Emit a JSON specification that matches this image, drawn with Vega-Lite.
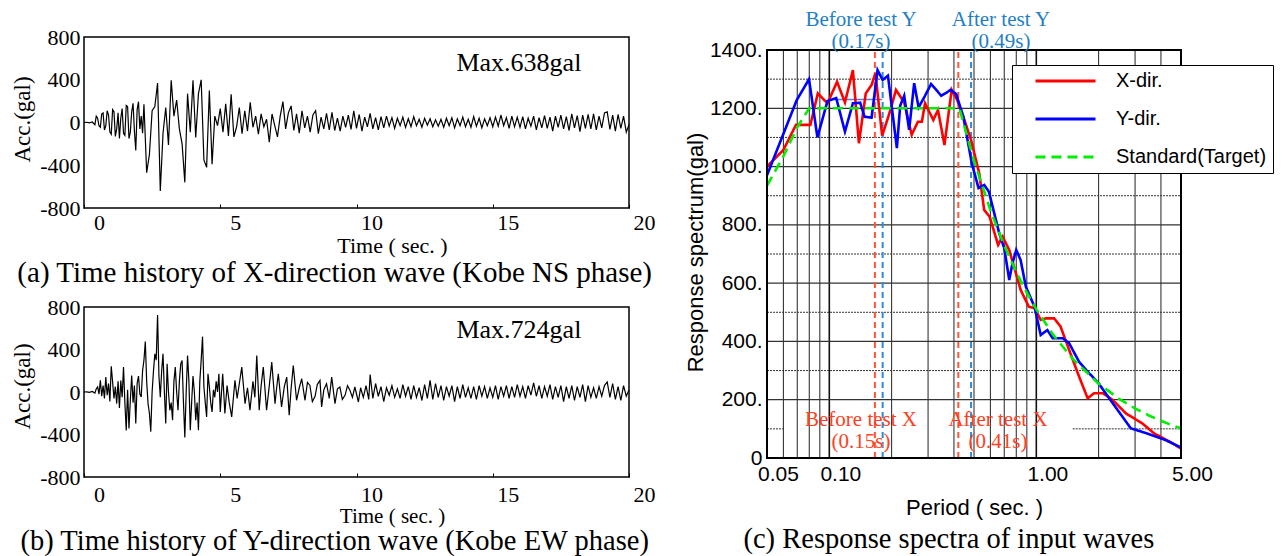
{
"$schema": "https://vega.github.io/schema/vega-lite/v6.json",
"width": 1282, "height": 556, "autosize": "none", "padding": 0,
"background": "white",
"config": {"view": {"stroke": null}, "axis": {"labelColor": "black", "titleColor": "black", "titleFontWeight": "normal", "grid": false, "domain": false, "labelFlush": false, "labelOverlap": false}},
"datasets": {
"wa": [{"t":0,"a":0},{"t":0.1,"a":2},{"t":0.2,"a":-3},{"t":0.3,"a":5},{"t":0.4,"a":-20},{"t":0.45,"a":60},{"t":0.5,"a":40},{"t":0.55,"a":-30},{"t":0.6,"a":-45},{"t":0.65,"a":80},{"t":0.7,"a":90},{"t":0.75,"a":-70},{"t":0.8,"a":-30},{"t":0.85,"a":110},{"t":0.9,"a":70},{"t":0.95,"a":-90},{"t":1.0,"a":-110},{"t":1.05,"a":120},{"t":1.1,"a":100},{"t":1.15,"a":-130},{"t":1.2,"a":-60},{"t":1.25,"a":90},{"t":1.3,"a":-150},{"t":1.35,"a":40},{"t":1.4,"a":130},{"t":1.45,"a":-100},{"t":1.5,"a":-120},{"t":1.55,"a":160},{"t":1.6,"a":150},{"t":1.65,"a":-150},{"t":1.7,"a":-90},{"t":1.75,"a":100},{"t":1.8,"a":180},{"t":1.85,"a":-80},{"t":1.9,"a":-262},{"t":1.95,"a":120},{"t":2.0,"a":195},{"t":2.05,"a":-60},{"t":2.1,"a":60},{"t":2.15,"a":-100},{"t":2.2,"a":170},{"t":2.3,"a":-470},{"t":2.4,"a":-300},{"t":2.5,"a":110},{"t":2.6,"a":150},{"t":2.7,"a":370},{"t":2.8,"a":-640},{"t":2.9,"a":-100},{"t":3.0,"a":140},{"t":3.1,"a":-210},{"t":3.2,"a":395},{"t":3.3,"a":60},{"t":3.4,"a":210},{"t":3.5,"a":-60},{"t":3.6,"a":-200},{"t":3.7,"a":-560},{"t":3.8,"a":270},{"t":3.9,"a":-90},{"t":4.0,"a":395},{"t":4.1,"a":-140},{"t":4.2,"a":270},{"t":4.3,"a":400},{"t":4.4,"a":-350},{"t":4.5,"a":-420},{"t":4.6,"a":300},{"t":4.7,"a":-390},{"t":4.8,"a":60},{"t":4.9,"a":-30},{"t":5.0,"a":130},{"t":5.1,"a":-90},{"t":5.2,"a":175},{"t":5.3,"a":-125},{"t":5.4,"a":265},{"t":5.5,"a":-135},{"t":5.6,"a":-40},{"t":5.7,"a":140},{"t":5.8,"a":-105},{"t":5.9,"a":110},{"t":6.0,"a":-80},{"t":6.1,"a":190},{"t":6.2,"a":-45},{"t":6.3,"a":60},{"t":6.4,"a":-110},{"t":6.5,"a":80},{"t":6.6,"a":-40},{"t":6.7,"a":30},{"t":6.8,"a":-185},{"t":6.9,"a":80},{"t":7.0,"a":-30},{"t":7.1,"a":-135},{"t":7.2,"a":60},{"t":7.3,"a":195},{"t":7.4,"a":-60},{"t":7.5,"a":90},{"t":7.6,"a":155},{"t":7.7,"a":-75},{"t":7.8,"a":80},{"t":7.9,"a":-100},{"t":8.0,"a":110},{"t":8.1,"a":-50},{"t":8.2,"a":60},{"t":8.3,"a":-90},{"t":8.4,"a":70},{"t":8.5,"a":110},{"t":8.6,"a":-105},{"t":8.7,"a":50},{"t":8.8,"a":-60},{"t":8.9,"a":85},{"t":9.0,"a":-70},{"t":9.1,"a":95},{"t":9.2,"a":-75},{"t":9.3,"a":40},{"t":9.4,"a":-80},{"t":9.5,"a":60},{"t":9.6,"a":-45},{"t":9.7,"a":70},{"t":9.8,"a":-65},{"t":9.9,"a":110},{"t":10.0,"a":-55},{"t":10.1,"a":75},{"t":10.2,"a":-80},{"t":10.3,"a":50},{"t":10.4,"a":-40},{"t":10.5,"a":85},{"t":10.6,"a":-60},{"t":10.7,"a":45},{"t":10.8,"a":-70},{"t":10.9,"a":55},{"t":11.0,"a":-50},{"t":11.1,"a":60},{"t":11.2,"a":-35},{"t":11.3,"a":45},{"t":11.4,"a":-55},{"t":11.5,"a":40},{"t":11.6,"a":-30},{"t":11.7,"a":50},{"t":11.8,"a":-45},{"t":11.9,"a":35},{"t":12.0,"a":-40},{"t":12.1,"a":55},{"t":12.2,"a":-30},{"t":12.3,"a":30},{"t":12.4,"a":-45},{"t":12.5,"a":40},{"t":12.6,"a":-25},{"t":12.7,"a":35},{"t":12.8,"a":-40},{"t":12.9,"a":25},{"t":13.0,"a":-35},{"t":13.1,"a":30},{"t":13.2,"a":-45},{"t":13.3,"a":40},{"t":13.4,"a":-30},{"t":13.5,"a":45},{"t":13.6,"a":-50},{"t":13.7,"a":35},{"t":13.8,"a":-30},{"t":13.9,"a":50},{"t":14.0,"a":-40},{"t":14.1,"a":30},{"t":14.2,"a":-45},{"t":14.3,"a":55},{"t":14.4,"a":-35},{"t":14.5,"a":40},{"t":14.6,"a":-50},{"t":14.7,"a":35},{"t":14.8,"a":-30},{"t":14.9,"a":45},{"t":15.0,"a":-40},{"t":15.1,"a":50},{"t":15.2,"a":-35},{"t":15.3,"a":70},{"t":15.4,"a":-30},{"t":15.5,"a":45},{"t":15.6,"a":-55},{"t":15.7,"a":60},{"t":15.8,"a":-40},{"t":15.9,"a":50},{"t":16.0,"a":-45},{"t":16.1,"a":55},{"t":16.2,"a":-60},{"t":16.3,"a":40},{"t":16.4,"a":-35},{"t":16.5,"a":60},{"t":16.6,"a":-70},{"t":16.7,"a":45},{"t":16.8,"a":-50},{"t":16.9,"a":65},{"t":17.0,"a":-55},{"t":17.1,"a":50},{"t":17.2,"a":-80},{"t":17.3,"a":60},{"t":17.4,"a":-45},{"t":17.5,"a":70},{"t":17.6,"a":-60},{"t":17.7,"a":55},{"t":17.8,"a":-75},{"t":17.9,"a":80},{"t":18.0,"a":-50},{"t":18.1,"a":65},{"t":18.2,"a":-85},{"t":18.3,"a":70},{"t":18.4,"a":-55},{"t":18.5,"a":75},{"t":18.6,"a":-60},{"t":18.7,"a":80},{"t":18.8,"a":-70},{"t":18.9,"a":60},{"t":19.0,"a":-50},{"t":19.1,"a":90},{"t":19.2,"a":100},{"t":19.3,"a":-65},{"t":19.4,"a":70},{"t":19.5,"a":-80},{"t":19.6,"a":75},{"t":19.7,"a":-55},{"t":19.8,"a":60},{"t":19.9,"a":-90},{"t":20.0,"a":-20}],
"wb": [{"t":0,"a":0},{"t":0.1,"a":2},{"t":0.2,"a":-3},{"t":0.3,"a":5},{"t":0.4,"a":-10},{"t":0.45,"a":30},{"t":0.5,"a":47},{"t":0.55,"a":-20},{"t":0.6,"a":109},{"t":0.65,"a":-40},{"t":0.7,"a":60},{"t":0.75,"a":-60},{"t":0.8,"a":140},{"t":0.85,"a":-31},{"t":0.9,"a":80},{"t":0.95,"a":-90},{"t":1.0,"a":243},{"t":1.05,"a":94},{"t":1.1,"a":-60},{"t":1.15,"a":50},{"t":1.2,"a":-109},{"t":1.25,"a":100},{"t":1.3,"a":-150},{"t":1.35,"a":109},{"t":1.4,"a":-50},{"t":1.45,"a":234},{"t":1.5,"a":-100},{"t":1.55,"a":-363},{"t":1.6,"a":20},{"t":1.65,"a":-343},{"t":1.7,"a":-80},{"t":1.75,"a":156},{"t":1.8,"a":-100},{"t":1.85,"a":60},{"t":1.9,"a":-296},{"t":1.95,"a":80},{"t":2.0,"a":150},{"t":2.05,"a":-20},{"t":2.1,"a":-47},{"t":2.15,"a":200},{"t":2.2,"a":300},{"t":2.25,"a":474},{"t":2.3,"a":100},{"t":2.35,"a":-109},{"t":2.4,"a":-200},{"t":2.45,"a":-374},{"t":2.5,"a":0},{"t":2.55,"a":200},{"t":2.6,"a":359},{"t":2.65,"a":300},{"t":2.7,"a":724},{"t":2.75,"a":150},{"t":2.8,"a":-50},{"t":2.85,"a":200},{"t":2.9,"a":359},{"t":2.95,"a":0},{"t":3.0,"a":-296},{"t":3.05,"a":265},{"t":3.1,"a":0},{"t":3.15,"a":-172},{"t":3.2,"a":-100},{"t":3.25,"a":-265},{"t":3.3,"a":100},{"t":3.35,"a":234},{"t":3.4,"a":0},{"t":3.45,"a":-172},{"t":3.5,"a":100},{"t":3.55,"a":265},{"t":3.6,"a":296},{"t":3.65,"a":-100},{"t":3.7,"a":-427},{"t":3.75,"a":0},{"t":3.8,"a":343},{"t":3.85,"a":100},{"t":3.9,"a":-359},{"t":3.95,"a":-100},{"t":4.0,"a":150},{"t":4.05,"a":0},{"t":4.1,"a":-265},{"t":4.15,"a":-100},{"t":4.2,"a":-359},{"t":4.25,"a":100},{"t":4.3,"a":300},{"t":4.35,"a":521},{"t":4.4,"a":50},{"t":4.45,"a":-100},{"t":4.5,"a":-234},{"t":4.55,"a":172},{"t":4.6,"a":50},{"t":4.65,"a":-100},{"t":4.7,"a":-187},{"t":4.75,"a":20},{"t":4.8,"a":-50},{"t":4.85,"a":100},{"t":4.9,"a":0},{"t":4.95,"a":172},{"t":5.0,"a":-187},{"t":5.09,"a":172},{"t":5.17,"a":-203},{"t":5.25,"a":60},{"t":5.33,"a":-100},{"t":5.42,"a":-234},{"t":5.54,"a":109},{"t":5.62,"a":-60},{"t":5.7,"a":80},{"t":5.79,"a":234},{"t":5.91,"a":-109},{"t":6.0,"a":40},{"t":6.09,"a":-172},{"t":6.2,"a":100},{"t":6.27,"a":-50},{"t":6.34,"a":343},{"t":6.43,"a":-172},{"t":6.5,"a":60},{"t":6.58,"a":234},{"t":6.7,"a":-172},{"t":6.8,"a":60},{"t":6.89,"a":281},{"t":7.01,"a":-109},{"t":7.07,"a":40},{"t":7.13,"a":172},{"t":7.25,"a":-140},{"t":7.35,"a":50},{"t":7.44,"a":140},{"t":7.53,"a":-218},{"t":7.6,"a":30},{"t":7.68,"a":250},{"t":7.8,"a":-78},{"t":7.9,"a":40},{"t":7.99,"a":125},{"t":8.11,"a":-78},{"t":8.2,"a":90},{"t":8.29,"a":62},{"t":8.38,"a":-90},{"t":8.48,"a":-40},{"t":8.56,"a":70},{"t":8.66,"a":109},{"t":8.72,"a":-140},{"t":8.8,"a":20},{"t":8.9,"a":78},{"t":9.0,"a":-60},{"t":9.09,"a":140},{"t":9.21,"a":-109},{"t":9.3,"a":30},{"t":9.39,"a":47},{"t":9.48,"a":-70},{"t":9.58,"a":-31},{"t":9.67,"a":60},{"t":9.76,"a":15},{"t":9.85,"a":-50},{"t":9.94,"a":47},{"t":10.07,"a":-94},{"t":10.15,"a":40},{"t":10.25,"a":-50},{"t":10.35,"a":60},{"t":10.45,"a":-70},{"t":10.5,"a":164},{"t":10.6,"a":-60},{"t":10.7,"a":80},{"t":10.8,"a":-40},{"t":10.9,"a":50},{"t":11.0,"a":-90},{"t":11.1,"a":40},{"t":11.2,"a":-30},{"t":11.3,"a":60},{"t":11.4,"a":-50},{"t":11.5,"a":30},{"t":11.6,"a":-60},{"t":11.7,"a":70},{"t":11.8,"a":-40},{"t":11.9,"a":50},{"t":12.0,"a":-70},{"t":12.1,"a":60},{"t":12.2,"a":-50},{"t":12.3,"a":40},{"t":12.4,"a":-80},{"t":12.5,"a":70},{"t":12.6,"a":-60},{"t":12.7,"a":110},{"t":12.8,"a":-70},{"t":12.9,"a":80},{"t":13.0,"a":-50},{"t":13.1,"a":60},{"t":13.2,"a":-80},{"t":13.3,"a":50},{"t":13.4,"a":-40},{"t":13.5,"a":60},{"t":13.6,"a":-90},{"t":13.7,"a":50},{"t":13.8,"a":-60},{"t":13.9,"a":70},{"t":14.0,"a":-50},{"t":14.1,"a":40},{"t":14.2,"a":-60},{"t":14.3,"a":50},{"t":14.4,"a":-70},{"t":14.5,"a":60},{"t":14.6,"a":-40},{"t":14.7,"a":50},{"t":14.8,"a":-60},{"t":14.9,"a":40},{"t":15.0,"a":-50},{"t":15.1,"a":60},{"t":15.2,"a":-70},{"t":15.3,"a":50},{"t":15.4,"a":-40},{"t":15.5,"a":60},{"t":15.6,"a":-60},{"t":15.7,"a":50},{"t":15.8,"a":-50},{"t":15.9,"a":70},{"t":16.0,"a":-40},{"t":16.1,"a":50},{"t":16.2,"a":-60},{"t":16.3,"a":60},{"t":16.4,"a":-30},{"t":16.5,"a":85},{"t":16.6,"a":-40},{"t":16.7,"a":60},{"t":16.8,"a":-60},{"t":16.9,"a":50},{"t":17.0,"a":-40},{"t":17.1,"a":70},{"t":17.2,"a":-70},{"t":17.3,"a":50},{"t":17.4,"a":-50},{"t":17.5,"a":60},{"t":17.6,"a":-90},{"t":17.7,"a":50},{"t":17.8,"a":-60},{"t":17.9,"a":60},{"t":18.0,"a":-80},{"t":18.1,"a":50},{"t":18.2,"a":-50},{"t":18.3,"a":70},{"t":18.4,"a":-90},{"t":18.5,"a":60},{"t":18.6,"a":-50},{"t":18.7,"a":40},{"t":18.8,"a":-60},{"t":18.9,"a":50},{"t":19.0,"a":-40},{"t":19.1,"a":60},{"t":19.2,"a":95},{"t":19.3,"a":-50},{"t":19.4,"a":80},{"t":19.5,"a":-70},{"t":19.6,"a":50},{"t":19.7,"a":-80},{"t":19.8,"a":60},{"t":19.9,"a":-40},{"t":20.0,"a":20}],
"spec": [
{"series":"X-dir.","T":0.05,"Sa":1000},{"series":"X-dir.","T":0.06,"Sa":1057},{"series":"X-dir.","T":0.069,"Sa":1143},{"series":"X-dir.","T":0.081,"Sa":1143},{"series":"X-dir.","T":0.088,"Sa":1251},{"series":"X-dir.","T":0.098,"Sa":1217},{"series":"X-dir.","T":0.109,"Sa":1291},{"series":"X-dir.","T":0.119,"Sa":1220},{"series":"X-dir.","T":0.13,"Sa":1331},{"series":"X-dir.","T":0.139,"Sa":1080},{"series":"X-dir.","T":0.15,"Sa":1251},{"series":"X-dir.","T":0.16,"Sa":1280},{"series":"X-dir.","T":0.167,"Sa":1320},{"series":"X-dir.","T":0.18,"Sa":1106},{"series":"X-dir.","T":0.194,"Sa":1177},{"series":"X-dir.","T":0.21,"Sa":1263},{"series":"X-dir.","T":0.23,"Sa":1220},{"series":"X-dir.","T":0.25,"Sa":1109},{"series":"X-dir.","T":0.268,"Sa":1154},{"series":"X-dir.","T":0.28,"Sa":1154},{"series":"X-dir.","T":0.29,"Sa":1217},{"series":"X-dir.","T":0.318,"Sa":1160},{"series":"X-dir.","T":0.335,"Sa":1194},{"series":"X-dir.","T":0.36,"Sa":1074},{"series":"X-dir.","T":0.39,"Sa":1263},{"series":"X-dir.","T":0.415,"Sa":1228},{"series":"X-dir.","T":0.444,"Sa":1171},{"series":"X-dir.","T":0.484,"Sa":1091},{"series":"X-dir.","T":0.53,"Sa":977},{"series":"X-dir.","T":0.56,"Sa":851},{"series":"X-dir.","T":0.595,"Sa":828},{"series":"X-dir.","T":0.654,"Sa":731},{"series":"X-dir.","T":0.687,"Sa":760},{"series":"X-dir.","T":0.74,"Sa":714},{"series":"X-dir.","T":0.84,"Sa":577},{"series":"X-dir.","T":0.92,"Sa":519},{"series":"X-dir.","T":0.98,"Sa":514},{"series":"X-dir.","T":1.05,"Sa":474},{"series":"X-dir.","T":1.11,"Sa":479},{"series":"X-dir.","T":1.22,"Sa":479},{"series":"X-dir.","T":1.31,"Sa":451},{"series":"X-dir.","T":1.44,"Sa":371},{"series":"X-dir.","T":1.61,"Sa":279},{"series":"X-dir.","T":1.77,"Sa":205},{"series":"X-dir.","T":1.9,"Sa":222},{"series":"X-dir.","T":2.1,"Sa":222},{"series":"X-dir.","T":2.34,"Sa":199},{"series":"X-dir.","T":2.71,"Sa":153},{"series":"X-dir.","T":3.25,"Sa":119},{"series":"X-dir.","T":3.7,"Sa":85},{"series":"X-dir.","T":4.4,"Sa":56},{"series":"X-dir.","T":5.0,"Sa":33},
{"series":"Y-dir.","T":0.05,"Sa":970},{"series":"Y-dir.","T":0.0696,"Sa":1228},{"series":"Y-dir.","T":0.0798,"Sa":1300},{"series":"Y-dir.","T":0.0876,"Sa":1100},{"series":"Y-dir.","T":0.098,"Sa":1225},{"series":"Y-dir.","T":0.108,"Sa":1235},{"series":"Y-dir.","T":0.119,"Sa":1120},{"series":"Y-dir.","T":0.13,"Sa":1217},{"series":"Y-dir.","T":0.141,"Sa":1219},{"series":"Y-dir.","T":0.148,"Sa":1171},{"series":"Y-dir.","T":0.16,"Sa":1168},{"series":"Y-dir.","T":0.171,"Sa":1331},{"series":"Y-dir.","T":0.181,"Sa":1297},{"series":"Y-dir.","T":0.192,"Sa":1312},{"series":"Y-dir.","T":0.212,"Sa":1063},{"series":"Y-dir.","T":0.22,"Sa":1209},{"series":"Y-dir.","T":0.23,"Sa":1243},{"series":"Y-dir.","T":0.243,"Sa":1126},{"series":"Y-dir.","T":0.257,"Sa":1286},{"series":"Y-dir.","T":0.27,"Sa":1203},{"series":"Y-dir.","T":0.29,"Sa":1243},{"series":"Y-dir.","T":0.31,"Sa":1283},{"series":"Y-dir.","T":0.326,"Sa":1266},{"series":"Y-dir.","T":0.347,"Sa":1243},{"series":"Y-dir.","T":0.369,"Sa":1254},{"series":"Y-dir.","T":0.385,"Sa":1263},{"series":"Y-dir.","T":0.41,"Sa":1249},{"series":"Y-dir.","T":0.444,"Sa":1171},{"series":"Y-dir.","T":0.488,"Sa":1011},{"series":"Y-dir.","T":0.526,"Sa":926},{"series":"Y-dir.","T":0.56,"Sa":937},{"series":"Y-dir.","T":0.59,"Sa":914},{"series":"Y-dir.","T":0.662,"Sa":771},{"series":"Y-dir.","T":0.7,"Sa":720},{"series":"Y-dir.","T":0.74,"Sa":611},{"series":"Y-dir.","T":0.767,"Sa":668},{"series":"Y-dir.","T":0.8,"Sa":714},{"series":"Y-dir.","T":0.84,"Sa":679},{"series":"Y-dir.","T":0.89,"Sa":588},{"series":"Y-dir.","T":0.98,"Sa":519},{"series":"Y-dir.","T":1.05,"Sa":422},{"series":"Y-dir.","T":1.13,"Sa":439},{"series":"Y-dir.","T":1.2,"Sa":411},{"series":"Y-dir.","T":1.34,"Sa":411},{"series":"Y-dir.","T":1.44,"Sa":394},{"series":"Y-dir.","T":1.61,"Sa":330},{"series":"Y-dir.","T":1.8,"Sa":291},{"series":"Y-dir.","T":2.0,"Sa":256},{"series":"Y-dir.","T":2.34,"Sa":188},{"series":"Y-dir.","T":2.86,"Sa":102},{"series":"Y-dir.","T":3.4,"Sa":85},{"series":"Y-dir.","T":4.2,"Sa":62},{"series":"Y-dir.","T":5.0,"Sa":36},
{"series":"Standard(Target)","T":0.05,"Sa":935},{"series":"Standard(Target)","T":0.06,"Sa":1035},{"series":"Standard(Target)","T":0.07,"Sa":1135},{"series":"Standard(Target)","T":0.08,"Sa":1200},{"series":"Standard(Target)","T":0.425,"Sa":1200},{"series":"Standard(Target)","T":0.5,"Sa":1020},{"series":"Standard(Target)","T":0.6,"Sa":850},{"series":"Standard(Target)","T":0.7,"Sa":729},{"series":"Standard(Target)","T":0.8,"Sa":638},{"series":"Standard(Target)","T":0.9,"Sa":567},{"series":"Standard(Target)","T":1.0,"Sa":510},{"series":"Standard(Target)","T":1.2,"Sa":425},{"series":"Standard(Target)","T":1.5,"Sa":340},{"series":"Standard(Target)","T":2.0,"Sa":255},{"series":"Standard(Target)","T":2.5,"Sa":204},{"series":"Standard(Target)","T":3.0,"Sa":170},{"series":"Standard(Target)","T":3.5,"Sa":146},{"series":"Standard(Target)","T":4.0,"Sa":128},{"series":"Standard(Target)","T":4.5,"Sa":113},{"series":"Standard(Target)","T":5.0,"Sa":102}
],
"vgrid": [{"p":0.06},{"p":0.07},{"p":0.08},{"p":0.09},{"p":0.2},{"p":0.3},{"p":0.4},{"p":0.5},{"p":0.6},{"p":0.7},{"p":0.8},{"p":0.9},{"p":2},{"p":3},{"p":4}],
"vmaj": [{"p":0.1},{"p":1}],
"hmaj": [{"g":200},{"g":400},{"g":600},{"g":800},{"g":1000},{"g":1200}],
"hmin": [{"g":300},{"g":500},{"g":700},{"g":900},{"g":1100},{"g":1300}]
},
"resolve": {"scale": {"x": "independent", "y": "independent"}, "axis": {"x": "independent", "y": "independent"}},
"layer": [
{
"layer": [
{"data": {"name": "wa"}, "mark": {"type": "line", "color": "black", "strokeWidth": 1.2},
 "encoding": {
  "x": {"field": "t", "type": "quantitative", "scale": {"domain": [0, 20], "range": [84, 629], "nice": false, "zero": false},
   "axis": {"orient": "bottom", "offset": -348, "values": [0, 5, 10, 15, 20], "format": "d", "labelFont": "Liberation Serif", "labelFontSize": 22, "labelOffset": 15, "labelPadding": 8, "ticks": true, "tickSize": -4, "tickColor": "black", "title": "Time ( sec. )", "titleFont": "Liberation Serif", "titleFontSize": 22, "titleX": 392, "titleY": 37, "titleBaseline": "middle"}},
  "y": {"field": "a", "type": "quantitative", "scale": {"domain": [-800, 800], "range": [208, 37], "nice": false, "zero": false},
   "axis": {"orient": "left", "offset": -84, "values": [-800, -400, 0, 400, 800], "labelExpr": "datum.value < 0 ? '-' + abs(datum.value) : '' + datum.value", "labelFont": "Liberation Serif", "labelFontSize": 22, "labelPadding": 4, "ticks": false, "title": "Acc.(gal)", "titleFont": "Liberation Serif", "titleFontSize": 23, "titleX": -62, "titleY": 119, "titleAngle": 270, "titleBaseline": "middle", "titleAlign": "center"}}
 }},
{"data": {"values": [{}]}, "mark": {"type": "rect", "fill": null, "stroke": "black", "strokeWidth": 1.5},
 "encoding": {"x": {"datum": 0, "type": "quantitative"}, "x2": {"datum": 20}, "y": {"datum": -800, "type": "quantitative"}, "y2": {"datum": 800}}},
{"data": {"values": [{}]}, "mark": {"type": "text", "text": "Max.638gal", "font": "Liberation Serif", "fontSize": 26, "color": "black"},
 "encoding": {"x": {"datum": 15.96, "type": "quantitative"}, "y": {"datum": 557, "type": "quantitative"}}},
{"data": {"values": [{}]}, "mark": {"type": "text", "text": "(a) Time history of X-direction wave (Kobe NS phase)", "font": "Liberation Serif", "fontSize": 29, "color": "black"},
 "encoding": {"x": {"datum": 9.2, "type": "quantitative"}, "y": {"datum": -1408, "type": "quantitative"}}}
]
},
{
"layer": [
{"data": {"name": "wb"}, "mark": {"type": "line", "color": "black", "strokeWidth": 1.2},
 "encoding": {
  "x": {"field": "t", "type": "quantitative", "scale": {"domain": [0, 20], "range": [84, 629], "nice": false, "zero": false},
   "axis": {"orient": "bottom", "offset": -79, "values": [0, 5, 10, 15, 20], "format": "d", "labelFont": "Liberation Serif", "labelFontSize": 22, "labelOffset": 15, "labelPadding": 11, "ticks": true, "tickSize": -4, "tickColor": "black", "title": "Time ( sec. )", "titleFont": "Liberation Serif", "titleFontSize": 21, "titleX": 392, "titleY": 39, "titleBaseline": "middle"}},
  "y": {"field": "a", "type": "quantitative", "scale": {"domain": [-800, 800], "range": [477, 307], "nice": false, "zero": false},
   "axis": {"orient": "left", "offset": -84, "values": [-800, -400, 0, 400, 800], "labelExpr": "datum.value < 0 ? '-' + abs(datum.value) : '' + datum.value", "labelFont": "Liberation Serif", "labelFontSize": 22, "labelPadding": 4, "ticks": false, "title": "Acc.(gal)", "titleFont": "Liberation Serif", "titleFontSize": 23, "titleX": -62, "titleY": 386, "titleAngle": 270, "titleBaseline": "middle", "titleAlign": "center"}}
 }},
{"data": {"values": [{}]}, "mark": {"type": "rect", "fill": null, "stroke": "black", "strokeWidth": 1.5},
 "encoding": {"x": {"datum": 0, "type": "quantitative"}, "x2": {"datum": 20}, "y": {"datum": -800, "type": "quantitative"}, "y2": {"datum": 800}}},
{"data": {"values": [{}]}, "mark": {"type": "text", "text": "Max.724gal", "font": "Liberation Serif", "fontSize": 26, "color": "black"},
 "encoding": {"x": {"datum": 15.96, "type": "quantitative"}, "y": {"datum": 583, "type": "quantitative"}}},
{"data": {"values": [{}]}, "mark": {"type": "text", "text": "(b) Time history of Y-direction wave (Kobe EW phase)", "font": "Liberation Serif", "fontSize": 28.5, "color": "black"},
 "encoding": {"x": {"datum": 9.2, "type": "quantitative"}, "y": {"datum": -1400, "type": "quantitative"}}}
]
},
{
"layer": [
{"data": {"name": "vgrid"}, "mark": {"type": "rule", "color": "#222222", "strokeWidth": 1},
 "encoding": {"x": {"field": "p", "type": "quantitative", "scale": {"type": "log", "domain": [0.05, 5], "range": [767, 1181], "nice": false}}, "y": {"datum": 0, "type": "quantitative", "scale": {"domain": [0, 1400], "range": [458, 50], "nice": false, "zero": false}}, "y2": {"datum": 1400}}},
{"data": {"name": "vmaj"}, "mark": {"type": "rule", "color": "#111111", "strokeWidth": 1.6},
 "encoding": {"x": {"field": "p", "type": "quantitative"}, "y": {"datum": 0, "type": "quantitative"}, "y2": {"datum": 1400}}},
{"data": {"name": "hmaj"}, "mark": {"type": "rule", "color": "#333333", "strokeWidth": 1.3},
 "encoding": {"y": {"field": "g", "type": "quantitative"}, "x": {"datum": 0.05, "type": "quantitative"}, "x2": {"datum": 5}}},
{"data": {"name": "hmin"}, "mark": {"type": "rule", "color": "#333333", "strokeWidth": 1, "strokeDash": [2, 1]},
 "encoding": {"y": {"field": "g", "type": "quantitative"}, "x": {"datum": 0.05, "type": "quantitative"}, "x2": {"datum": 5}}},
{"data": {"values": [{}]}, "mark": {"type": "rule", "color": "#333333", "strokeWidth": 1, "strokeDash": [2, 1]},
 "encoding": {"y": {"datum": 100, "type": "quantitative"}, "x": {"datum": 0.05, "type": "quantitative"}, "x2": {"datum": 0.06}}},
{"data": {"values": [{}]}, "mark": {"type": "rule", "color": "#333333", "strokeWidth": 1, "strokeDash": [2, 1]},
 "encoding": {"y": {"datum": 100, "type": "quantitative"}, "x": {"datum": 1.5, "type": "quantitative"}, "x2": {"datum": 5}}},
{"data": {"values": [{"p": 0.166}, {"p": 0.42}]}, "mark": {"type": "rule", "color": "#ff5533", "strokeWidth": 2, "strokeDash": [6, 4]},
 "encoding": {"x": {"field": "p", "type": "quantitative"}, "y": {"datum": 0, "type": "quantitative"}, "y2": {"datum": 1400}}},
{"data": {"values": [{"p": 0.181}, {"p": 0.484}]}, "mark": {"type": "rule", "color": "#2e8ad6", "strokeWidth": 2, "strokeDash": [6, 4]},
 "encoding": {"x": {"field": "p", "type": "quantitative"}, "y": {"datum": 0, "type": "quantitative"}, "y2": {"datum": 1400}}},
{"data": {"values": [{}]}, "mark": {"type": "rule", "color": "#5a7fd6", "strokeWidth": 1.5},
 "encoding": {"x": {"datum": 0.102, "type": "quantitative"}, "x2": {"datum": 0.18}, "y": {"datum": 1230, "type": "quantitative"}}},
{"data": {"name": "spec"}, "mark": {"type": "line", "strokeWidth": 2.6},
 "encoding": {
  "x": {"field": "T", "type": "quantitative",
   "axis": {"orient": "bottom", "offset": -98, "values": [0.05, 0.1, 1, 5], "format": ".2f", "labelFont": "Liberation Sans", "labelFontSize": 21, "labelOffset": 11, "labelPadding": 5, "ticks": false, "title": "Period ( sec. )", "titleFont": "Liberation Sans", "titleFontSize": 22, "titleY": 49, "titleBaseline": "middle"}},
  "y": {"field": "Sa", "type": "quantitative",
   "axis": {"orient": "left", "offset": -767, "values": [0, 200, 400, 600, 800, 1000, 1200, 1400], "format": "d", "labelExpr": "datum.value === 0 ? '0' : datum.label + '.'", "labelFont": "Liberation Sans", "labelFontSize": 21, "labelPadding": 5, "ticks": false, "title": "Response spectrum(gal)", "titleFont": "Liberation Sans", "titleFontSize": 22, "titleX": -72, "titleY": 252, "titleAngle": 270, "titleBaseline": "middle", "titleAlign": "center"}},
  "color": {"field": "series", "type": "nominal", "scale": {"domain": ["X-dir.", "Y-dir.", "Standard(Target)"], "range": ["#ff0000", "#0000ff", "#00ee00"]},
   "legend": {"orient": "none", "legendX": 1012, "legendY": 65, "title": null, "symbolType": "stroke", "symbolSize": 3600, "symbolStrokeWidth": 3, "symbolOffset": 16, "clipHeight": 20, "labelFont": "Liberation Sans", "labelFontSize": 20, "labelColor": "black", "labelOffset": 19, "labelLimit": 300, "strokeColor": "black", "fillColor": "white", "padding": 6, "rowPadding": 18}},
  "strokeDash": {"field": "series", "type": "nominal", "scale": {"domain": ["X-dir.", "Y-dir.", "Standard(Target)"], "range": [[1, 0], [1, 0], [10, 6]]},
   "legend": {"orient": "none", "legendX": 1012, "legendY": 65, "title": null, "symbolType": "stroke", "symbolSize": 3600, "symbolStrokeWidth": 3, "symbolOffset": 16, "clipHeight": 20, "labelFont": "Liberation Sans", "labelFontSize": 20, "labelColor": "black", "labelOffset": 19, "labelLimit": 300, "strokeColor": "black", "fillColor": "white", "padding": 6, "rowPadding": 18}}
 }},
{"data": {"values": [{}]}, "mark": {"type": "rect", "fill": null, "stroke": "black", "strokeWidth": 2},
 "encoding": {"x": {"datum": 0.05, "type": "quantitative"}, "x2": {"datum": 5}, "y": {"datum": 0, "type": "quantitative"}, "y2": {"datum": 1400}}},
{"data": {"values": [{}]}, "mark": {"type": "text", "text": ["Before test Y", "(0.17s)"], "font": "Liberation Serif", "fontSize": 21, "lineHeight": 22, "color": "#1f7fc6", "baseline": "middle"},
 "encoding": {"x": {"datum": 0.1423, "type": "quantitative"}, "y": {"datum": 1503, "type": "quantitative"}}},
{"data": {"values": [{}]}, "mark": {"type": "text", "text": ["After test Y", "(0.49s)"], "font": "Liberation Serif", "fontSize": 21, "lineHeight": 22, "color": "#1f7fc6", "baseline": "middle"},
 "encoding": {"x": {"datum": 0.675, "type": "quantitative"}, "y": {"datum": 1503, "type": "quantitative"}}},
{"data": {"values": [{}]}, "mark": {"type": "text", "text": ["Before test X", "(0.15s)"], "font": "Liberation Serif", "fontSize": 21, "lineHeight": 22, "color": "#ff4020", "baseline": "middle"},
 "encoding": {"x": {"datum": 0.1423, "type": "quantitative"}, "y": {"datum": 130, "type": "quantitative"}}},
{"data": {"values": [{}]}, "mark": {"type": "text", "text": ["After test X", "(0.41s)"], "font": "Liberation Serif", "fontSize": 21, "lineHeight": 22, "color": "#ff4020", "baseline": "middle"},
 "encoding": {"x": {"datum": 0.653, "type": "quantitative"}, "y": {"datum": 130, "type": "quantitative"}}},
{"data": {"values": [{}]}, "mark": {"type": "text", "text": "(c) Response spectra of input waves", "font": "Liberation Serif", "fontSize": 28.5, "color": "black"},
 "encoding": {"x": {"datum": 0.378, "type": "quantitative"}, "y": {"datum": -279, "type": "quantitative"}}}
]
}
]
}
